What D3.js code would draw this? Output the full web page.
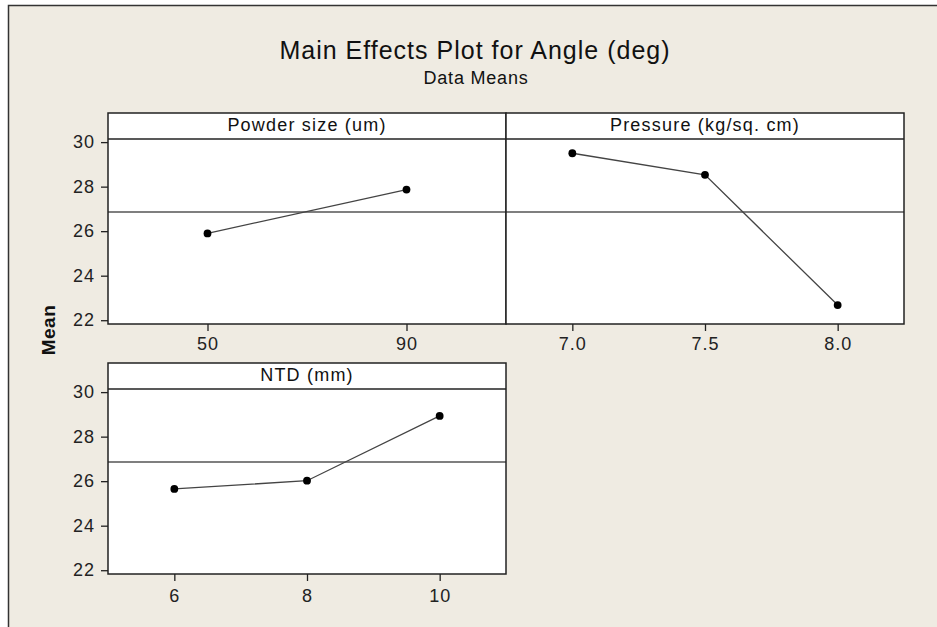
<!DOCTYPE html>
<html>
<head>
<meta charset="utf-8">
<script src="https://cdn.jsdelivr.net/npm/d3@7"></script>
<style>
  body { margin: 0; background: #fff; }
  svg { display: block; font-family: "Liberation Sans", Arial, sans-serif; }
  .tick text { font-size: 18px; letter-spacing: 1px; fill: #222; }
</style>
</head>
<body>
<div id="main"></div>
<script>
// main effects data
const factorNames = ['Powder size (um)', 'Pressure (kg/sq. cm)', 'NTD (mm)']
const powderLevels = ['50', '90']
const powderMeans = [25.9, 27.87]
const pressureLevels = ['7.0', '7.5', '8.0']
const pressureMeans = [29.5, 28.53, 22.68]
const ntdLevels = ['6', '8', '10']
const ntdMeans = [25.65, 26.02, 28.93]
const grandMean = 26.86
const yTicks = [22, 24, 26, 28, 30]
const yDomain = [21.83, 30.14]

const width = 937
const height = 627

const svg = d3.select('#main').append('svg')
  .attr('width', width)
  .attr('height', height)

// beige frame
svg.append('rect')
  .attr('x', 8.5).attr('y', 5.5)
  .attr('width', 940).attr('height', 640)
  .attr('fill', '#efebe2')
  .attr('stroke', '#333')
  .attr('stroke-width', 1.5)

svg.append('text')
  .attr('x', 475).attr('y', 59)
  .attr('text-anchor', 'middle')
  .style('font-size', '25px')
  .style('letter-spacing', '1px')
  .attr('fill', '#111')
  .text('Main Effects Plot for Angle (deg)')

svg.append('text')
  .attr('x', 476).attr('y', 84)
  .attr('text-anchor', 'middle')
  .style('font-size', '18px')
  .style('letter-spacing', '0.8px')
  .attr('fill', '#111')
  .text('Data Means')

svg.append('text')
  .attr('transform', 'translate(55, 330) rotate(-90)')
  .attr('text-anchor', 'middle')
  .style('font-size', '19px')
  .style('font-weight', 'bold')
  .style('letter-spacing', '0.5px')
  .attr('fill', '#111')
  .text('Mean')

const panels = [
  { name: factorNames[0], levels: powderLevels, means: powderMeans, x: 108, y: 113, yAxis: true, pad: 6 },
  { name: factorNames[1], levels: pressureLevels, means: pressureMeans, x: 506, y: 113, yAxis: false, pad: 6 },
  { name: factorNames[2], levels: ntdLevels, means: ntdMeans, x: 108, y: 363, yAxis: true, pad: 8 }
]

const panelW = 398
const stripH = 26
const plotH = 185

panels.forEach(p => drawPanel(p))

function drawPanel (p) {
  const g = svg.append('g').attr('transform', `translate(${p.x}, ${p.y})`)
  const xScale = d3.scalePoint().domain(p.levels).range([0, panelW]).padding(0.5)
  const yScale = d3.scaleLinear().domain(yDomain).range([stripH + plotH, stripH])

  // strip + plot area
  g.append('rect')
    .attr('width', panelW).attr('height', stripH + plotH)
    .attr('fill', '#fff')
  g.append('text')
    .attr('x', panelW / 2).attr('y', stripH - 8)
    .attr('text-anchor', 'middle')
    .style('font-size', '18px')
    .style('letter-spacing', '1.2px')
    .attr('fill', '#111')
    .text(p.name)

  // grand mean reference
  g.append('line')
    .attr('x1', 0).attr('x2', panelW)
    .attr('y1', yScale(grandMean)).attr('y2', yScale(grandMean))
    .attr('stroke', '#555')
    .attr('stroke-width', 1.5)

  const pts = p.levels.map((l, i) => [xScale(l), yScale(p.means[i])])
  g.append('path')
    .attr('d', d3.line()(pts))
    .attr('fill', 'none')
    .attr('stroke', '#444')
    .attr('stroke-width', 1.3)
  g.selectAll('.pt')
    .data(p.levels)
    .enter()
    .append('circle')
    .attr('class', 'pt')
    .attr('cx', d => xScale(d))
    .attr('cy', (d, i) => yScale(p.means[i]))
    .attr('r', 3.9)
    .attr('fill', '#000')

  // borders
  g.append('rect')
    .attr('width', panelW).attr('height', stripH + plotH)
    .attr('fill', 'none')
    .attr('stroke', '#222')
    .attr('stroke-width', 1.5)
  g.append('line')
    .attr('x1', 0).attr('x2', panelW)
    .attr('y1', stripH).attr('y2', stripH)
    .attr('stroke', '#222')
    .attr('stroke-width', 1.5)

  const xAxis = g.append('g')
    .attr('transform', `translate(0, ${stripH + plotH})`)
    .call(d3.axisBottom(xScale).tickSize(7).tickPadding(p.pad))
  xAxis.select('.domain').remove()
  xAxis.selectAll('.tick line').attr('stroke', '#222').attr('stroke-width', 1.3)

  if (p.yAxis) {
    const yAxis = g.append('g')
      .call(d3.axisLeft(yScale).tickValues(yTicks).tickSize(7).tickPadding(6))
    yAxis.select('.domain').remove()
    yAxis.selectAll('.tick line').attr('stroke', '#222').attr('stroke-width', 1.3)
  }
}
</script>
</body>
</html>
